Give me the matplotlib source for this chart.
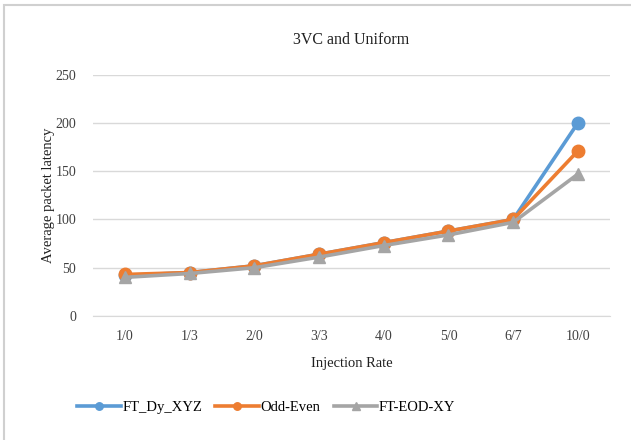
import matplotlib
matplotlib.use("Agg")
import matplotlib.pyplot as plt
from matplotlib.patches import Rectangle

categories = ["1/0", "1/3", "2/0", "3/3", "4/0", "5/0", "6/7", "10/0"]
ft_dy_xyz = [42, 45, 52, 64, 76, 88, 100, 200]
odd_even = [43, 45, 52, 64, 76, 88, 100, 171]
ft_eod_xy = [40, 44, 50, 61, 73, 84, 97, 147]
yticks = [0, 50, 100, 150, 200, 250]

plt.rcParams['font.family'] = ['Liberation Serif', 'DejaVu Serif']

fig = plt.figure(figsize=(6.31, 4.40), dpi=100)
ax = fig.add_axes([0.147, 0.282, 0.820, 0.548])

x = list(range(len(categories)))
ax.plot(x, ft_dy_xyz, color='#5b9bd5', lw=2.6, marker='o', ms=9, label='FT_Dy_XYZ', zorder=3)
ax.plot(x, odd_even, color='#ed7d31', lw=2.6, marker='o', ms=9, label='Odd-Even', zorder=4)
ax.plot(x, ft_eod_xy, color='#a5a5a5', lw=2.6, marker='^', ms=9, label='FT-EOD-XY', zorder=5)

ax.set_xlim(-0.5, len(categories) - 0.5)
ax.set_ylim(0, 250)
ax.set_yticks(yticks)
ax.set_xticks(x)
ax.set_xticklabels(categories)
ax.grid(axis='y', color='#d9d9d9', lw=1)
ax.set_axisbelow(True)
for s in ['top', 'right', 'left']:
    ax.spines[s].set_visible(False)
ax.spines['bottom'].set_color('#d9d9d9')
ax.tick_params(length=0, labelsize=10, colors='#404040', pad=10)
ax.tick_params(axis='y', pad=12)

ax.set_title('3VC and Uniform', fontsize=11.5, pad=22, color='#202020')
ax.set_xlabel('Injection Rate', fontsize=10.5, labelpad=10, color='#202020')
ax.set_ylabel('Average packet latency', fontsize=10.5, labelpad=0, color='#202020')

leg = fig.legend(loc='center', bbox_to_anchor=(0.422, 0.075), ncol=3, frameon=False,
                 fontsize=10.5, handlelength=3.0, columnspacing=0.9, handletextpad=0.1,
                 markerscale=0.6)

fig.add_artist(Rectangle((0.006, -0.1), 1.2, 1.088, transform=fig.transFigure,
                         fill=False, edgecolor='#d0d0d0', lw=1.5))

fig.savefig('out.png', dpi=100)
